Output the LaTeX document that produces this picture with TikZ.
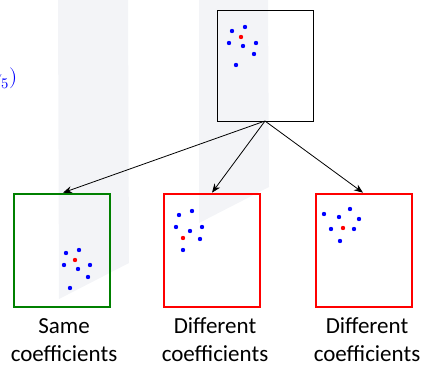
\documentclass[tikz,border=0pt]{standalone}
\usepackage{fontspec}
\setmainfont{Carlito}
\usepackage{unicode-math}
\usetikzlibrary{arrows.meta}
\definecolor{band}{RGB}{243,244,247}
\definecolor{boxgreen}{RGB}{0,128,0}
\definecolor{boxred}{RGB}{255,0,0}
\definecolor{dotblue}{RGB}{0,0,255}
\definecolor{dotred}{RGB}{255,0,0}
\tikzset{
  frame/.style={draw=black, line width=0.9pt},
  samebox/.style={draw=boxgreen, line width=2.6pt},
  diffbox/.style={draw=boxred, line width=2.6pt},
  bdot/.style={fill=dotblue},
  rdot/.style={fill=dotred},
  link/.style={draw=black, line width=0.8pt, -{Stealth[length=9pt,width=7pt]}},
  caption/.style={font=\fontsize{23}{28}\selectfont, inner sep=0pt, anchor=base},
}
\begin{document}
\begin{tikzpicture}[x=1pt, y=-1pt]
\useasboundingbox (0,0) rectangle (423,367);
% translucent projection bands
\fill[band] (58,0) -- (128,0) -- (129,263) -- (59,299) -- cycle;
\fill[band] (199,0) -- (268,0) -- (269,187) -- (199,223) -- cycle;
% math fragment at the left edge
\node[text=dotblue, inner sep=0pt, anchor=base east, font=\fontsize{21}{25}\selectfont] (gam) at (18,83) {$\gamma_5)$};
% source panel
\draw[frame] (217,10) rectangle (313,121);
\coordinate (src) at (265,121);
\foreach \x/\y in {232/31, 245/27, 229/43, 243/46, 256/43, 254/54, 236/65}
  \fill[bdot] (\x,\y) circle (2.2);
\fill[rdot] (241,37) circle (2.2);
% target panels
\node[samebox, minimum width=96pt, minimum height=113pt, inner sep=0pt] (p1) at (62,250.5) {};
\node[diffbox, minimum width=96pt, minimum height=113pt, inner sep=0pt] (p2) at (212,250.5) {};
\node[diffbox, minimum width=96pt, minimum height=113pt, inner sep=0pt] (p3) at (364,250.5) {};
\foreach \x/\y in {66/253, 79/250, 64/265, 78/269, 90/265, 88/277, 70/288}
  \fill[bdot] (\x,\y) circle (2.2);
\fill[rdot] (75,260) circle (2.2);
\foreach \x/\y in {179/215, 192/211, 176/227, 190/231, 202/227, 200/239, 183/250}
  \fill[bdot] (\x,\y) circle (2.2);
\fill[rdot] (183,238) circle (2.2);
\foreach \x/\y in {324/214, 339/217, 350/209, 359/219, 331/229, 354/229, 340/241}
  \fill[bdot] (\x,\y) circle (2.2);
\fill[rdot] (343,228) circle (2.2);
% connectors
\draw[link] (src) -- ([xshift=1pt]p1.north);
\draw[link] (src) -- (p2.north);
\draw[link] (src) -- ([xshift=-1pt]p3.north);
% captions
\node[caption] (c1a) at (64,333) {Same};
\node[caption] (c1b) at (64,361) {coefficients};
\node[caption] (c2a) at (215,333) {Different};
\node[caption] (c2b) at (215,361) {coefficients};
\node[caption] (c3a) at (367,333) {Different};
\node[caption] (c3b) at (367,361) {coefficients};
\end{tikzpicture}
\end{document}
